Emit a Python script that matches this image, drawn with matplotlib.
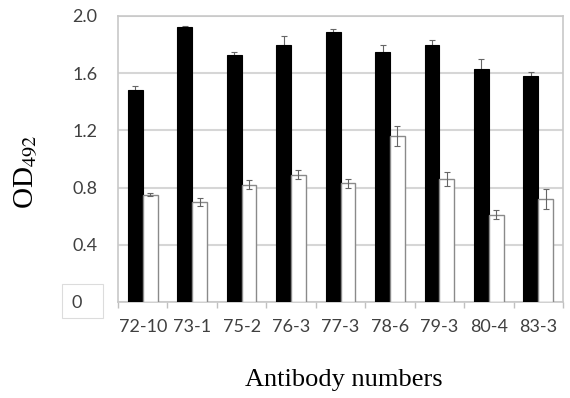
import matplotlib
matplotlib.use("Agg")
import matplotlib.pyplot as plt
from matplotlib.patches import Rectangle
import numpy as np

plt.rcParams["mathtext.fontset"] = "stix"

categories = ["72-10", "73-1", "75-2", "76-3", "77-3", "78-6", "79-3", "80-4", "83-3"]
black_vals = [1.48, 1.92, 1.73, 1.80, 1.89, 1.75, 1.80, 1.63, 1.58]
black_err = [0.03, 0.01, 0.02, 0.06, 0.02, 0.05, 0.03, 0.07, 0.03]
white_vals = [0.75, 0.70, 0.82, 0.89, 0.83, 1.16, 0.86, 0.61, 0.72]
white_err = [0.01, 0.03, 0.03, 0.03, 0.03, 0.07, 0.05, 0.03, 0.07]
yticks = [0, 0.4, 0.8, 1.2, 1.6, 2.0]
ytick_labels = ["", "0.4", "0.8", "1.2", "1.6", "2.0"]
zero_label = "0"

W, H = 570, 398
fig = plt.figure(figsize=(W / 100, H / 100), dpi=100)
ax = fig.add_axes([118 / W, 1 - 302 / H, (563 - 118) / W, (302 - 16) / H])

x = np.arange(len(categories))
w = 0.30
ax.bar(x - w/2, black_vals, width=w, color="black", edgecolor="black", linewidth=0.8, zorder=3)
ax.errorbar(x - w/2, black_vals, yerr=black_err, fmt="none", ecolor="#666666", elinewidth=0.8, capsize=2, capthick=0.8, zorder=2.5)
ax.bar(x + w/2, white_vals, width=w, color="white", edgecolor="#8a8a8a", linewidth=1.0, zorder=3)
ax.errorbar(x + w/2, white_vals, yerr=white_err, fmt="none", ecolor="#666666", elinewidth=0.8, capsize=2, capthick=0.8, zorder=4)

ax.set_xlim(-0.5, len(categories) - 0.5)
ax.set_ylim(0, 2.0)
ax.set_yticks(yticks)
ax.set_yticklabels(ytick_labels, fontfamily="Lato", fontsize=13, color="#404040")
ax.tick_params(axis="y", length=0, pad=15)
ax.yaxis.grid(True, color="#d6d6d6", linewidth=1.5, zorder=0)
ax.set_axisbelow(True)

ax.set_xticks(x)
ax.set_xticklabels(categories, fontfamily="Lato", fontsize=13, color="#404040")
ax.tick_params(axis="x", length=0, pad=12)
ax.set_xticks(np.arange(-0.5, len(categories), 1.0), minor=True)
ax.tick_params(axis="x", which="minor", length=4, color="#c0c0c0", width=1)

for s in ax.spines.values():
    s.set_color("#c8c8c8")
    s.set_linewidth(1.2)

# boxed zero label
fig.patches.append(Rectangle((62 / W, 1 - 318 / H), 41 / W, 34 / H, transform=fig.transFigure,
                             facecolor="white", edgecolor="#dcdcdc", linewidth=0.8))
fig.text(77 / W, 1 - 303.5 / H, zero_label, ha="center", va="center", fontfamily="Lato", fontsize=13, color="#404040")

fig.text(27 / W, 1 - 172 / H, "OD$_{492}$", rotation=90, ha="center", va="center",
         fontfamily="Liberation Serif", fontsize=21)
fig.text(344 / W, 1 - 380 / H, "Antibody numbers", ha="center", va="center",
         fontfamily="Liberation Serif", fontsize=19)

fig.savefig("out.png", dpi=100)
